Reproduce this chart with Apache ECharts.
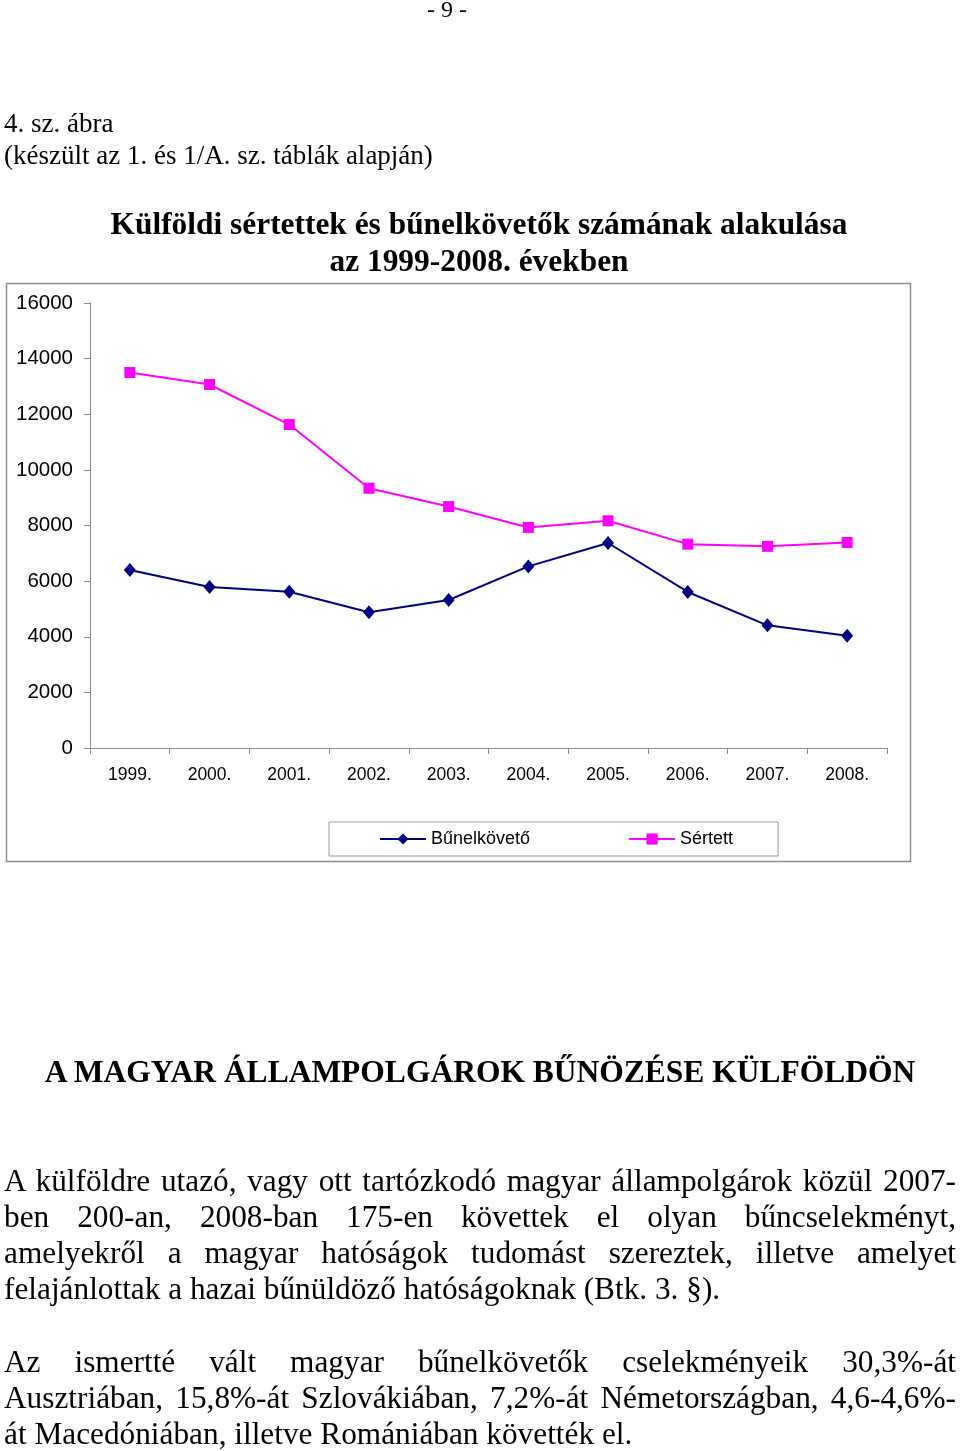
<!DOCTYPE html>
<html>
<head>
<meta charset="utf-8">
<script src="https://cdn.jsdelivr.net/npm/echarts@6/dist/echarts.min.js"></script>
<style>
  html, body { margin: 0; padding: 0; background: #fff; }
  #page { position: relative; width: 960px; height: 1451px; overflow: hidden; background: #fff; }
  #chart { position: absolute; left: 0; top: 0; width: 960px; height: 1451px; }
  .t { position: absolute; font-family: "Liberation Serif", "Times New Roman", serif; color: #000; white-space: nowrap; }
  .j { text-align: justify; text-align-last: justify; white-space: normal; }
  .b { font-size: 31.3px; line-height: 36px; }
</style>
</head>
<body>
<div id="page">
  <div id="chart"></div>
  <div class="t" style="left:0;width:894px;text-align:center;top:-6px;font-size:24px;line-height:30px;">- 9 -</div>
  <div class="t" style="left:4px;top:107px;font-size:27px;line-height:32px;">4. sz. ábra</div>
  <div class="t" style="left:4px;top:139px;font-size:27px;line-height:32px;">(készült az 1. és 1/A. sz. táblák alapján)</div>

  <div class="t" style="left:0;width:960px;text-align:center;top:1054px;font-size:31.5px;line-height:36px;font-weight:bold;">A MAGYAR ÁLLAMPOLGÁROK BŰNÖZÉSE KÜLFÖLDÖN</div>

  <div class="t j b" style="left:4px;width:952px;top:1163px;">A külföldre utazó, vagy ott tartózkodó magyar állampolgárok közül 2007-</div>
  <div class="t j b" style="left:4px;width:952px;top:1199px;">ben 200-an, 2008-ban 175-en követtek el olyan bűncselekményt,</div>
  <div class="t j b" style="left:4px;width:952px;top:1235px;">amelyekről a magyar hatóságok tudomást szereztek, illetve amelyet</div>
  <div class="t b" style="left:4px;top:1271px;">felajánlottak a hazai bűnüldöző hatóságoknak (Btk. 3. §).</div>

  <div class="t j b" style="left:4px;width:952px;top:1344px;">Az ismertté vált magyar bűnelkövetők cselekményeik 30,3%-át</div>
  <div class="t j b" style="left:4px;width:952px;top:1380px;">Ausztriában, 15,8%-át Szlovákiában, 7,2%-át Németországban, 4,6-4,6%-</div>
  <div class="t b" style="left:4px;top:1416px;">át Macedóniában, illetve Romániában követték el.</div>
</div>
<script>
const categories = ['1999.', '2000.', '2001.', '2002.', '2003.', '2004.', '2005.', '2006.', '2007.', '2008.'];
const bunelkoveto = [6400, 5790, 5620, 4880, 5320, 6530, 7370, 5610, 4410, 4040];
const sertett = [13500, 13070, 11630, 9340, 8680, 7930, 8170, 7330, 7250, 7390];
const yTicks = { min: 0, max: 16000, interval: 2000 };
const titleLines = ['Külföldi sértettek és bűnelkövetők számának alakulása', 'az 1999-2008. években'];
const seriesNames = ['Bűnelkövető', 'Sértett'];

const chart = echarts.init(document.getElementById('chart'), null, { renderer: 'canvas' });
chart.setOption({
  animation: false,
  backgroundColor: 'transparent',
  title: {
    text: titleLines.join('\n'),
    left: 479,
    textAlign: 'center',
    top: 207,
    padding: 0,
    textStyle: {
      fontFamily: 'Liberation Serif',
      fontWeight: 'bold',
      fontSize: 31.4,
      lineHeight: 37,
      color: '#000'
    }
  },
  graphic: [{
    type: 'rect',
    shape: { x: 6.5, y: 283.5, width: 904, height: 578 },
    style: { fill: 'none', stroke: '#8c8c8c', lineWidth: 1.5 },
    z: -1
  }],
  legend: {
    left: 329,
    top: 822,
    orient: 'horizontal',
    data: seriesNames,
    itemWidth: 46,
    itemHeight: 14,
    itemGap: 98,
    padding: [8, 45, 8, 50],
    borderColor: '#9a9a9a',
    borderWidth: 1,
    textStyle: { fontFamily: 'Liberation Sans', fontSize: 18, color: '#000' }
  },
  grid: { left: 90, right: 73, top: 303, bottom: 703, containLabel: false },
  xAxis: {
    type: 'category',
    data: categories,
    boundaryGap: true,
    axisLine: { lineStyle: { color: '#8c8c8c', width: 1 } },
    axisTick: { show: true, length: 6, lineStyle: { color: '#8c8c8c' } },
    axisLabel: { margin: 18, fontFamily: 'Liberation Sans', fontSize: 17.5, color: '#000' }
  },
  yAxis: {
    type: 'value',
    min: yTicks.min,
    max: yTicks.max,
    interval: yTicks.interval,
    axisLine: { show: true, lineStyle: { color: '#8c8c8c', width: 1 } },
    axisTick: { show: true, length: 6, lineStyle: { color: '#8c8c8c' } },
    splitLine: { show: false },
    axisLabel: { margin: 17, fontFamily: 'Liberation Sans', fontSize: 20.5, color: '#000', formatter: v => String(v) }
  },
  series: [
    {
      name: seriesNames[0],
      type: 'line',
      data: bunelkoveto,
      symbol: 'diamond',
      symbolSize: [12, 14],
      lineStyle: { color: '#000080', width: 2 },
      itemStyle: { color: '#000080' }
    },
    {
      name: seriesNames[1],
      type: 'line',
      data: sertett,
      symbol: 'rect',
      symbolSize: 11,
      lineStyle: { color: '#ff00ff', width: 2 },
      itemStyle: { color: '#ff00ff' }
    }
  ]
});
</script>
</body>
</html>
